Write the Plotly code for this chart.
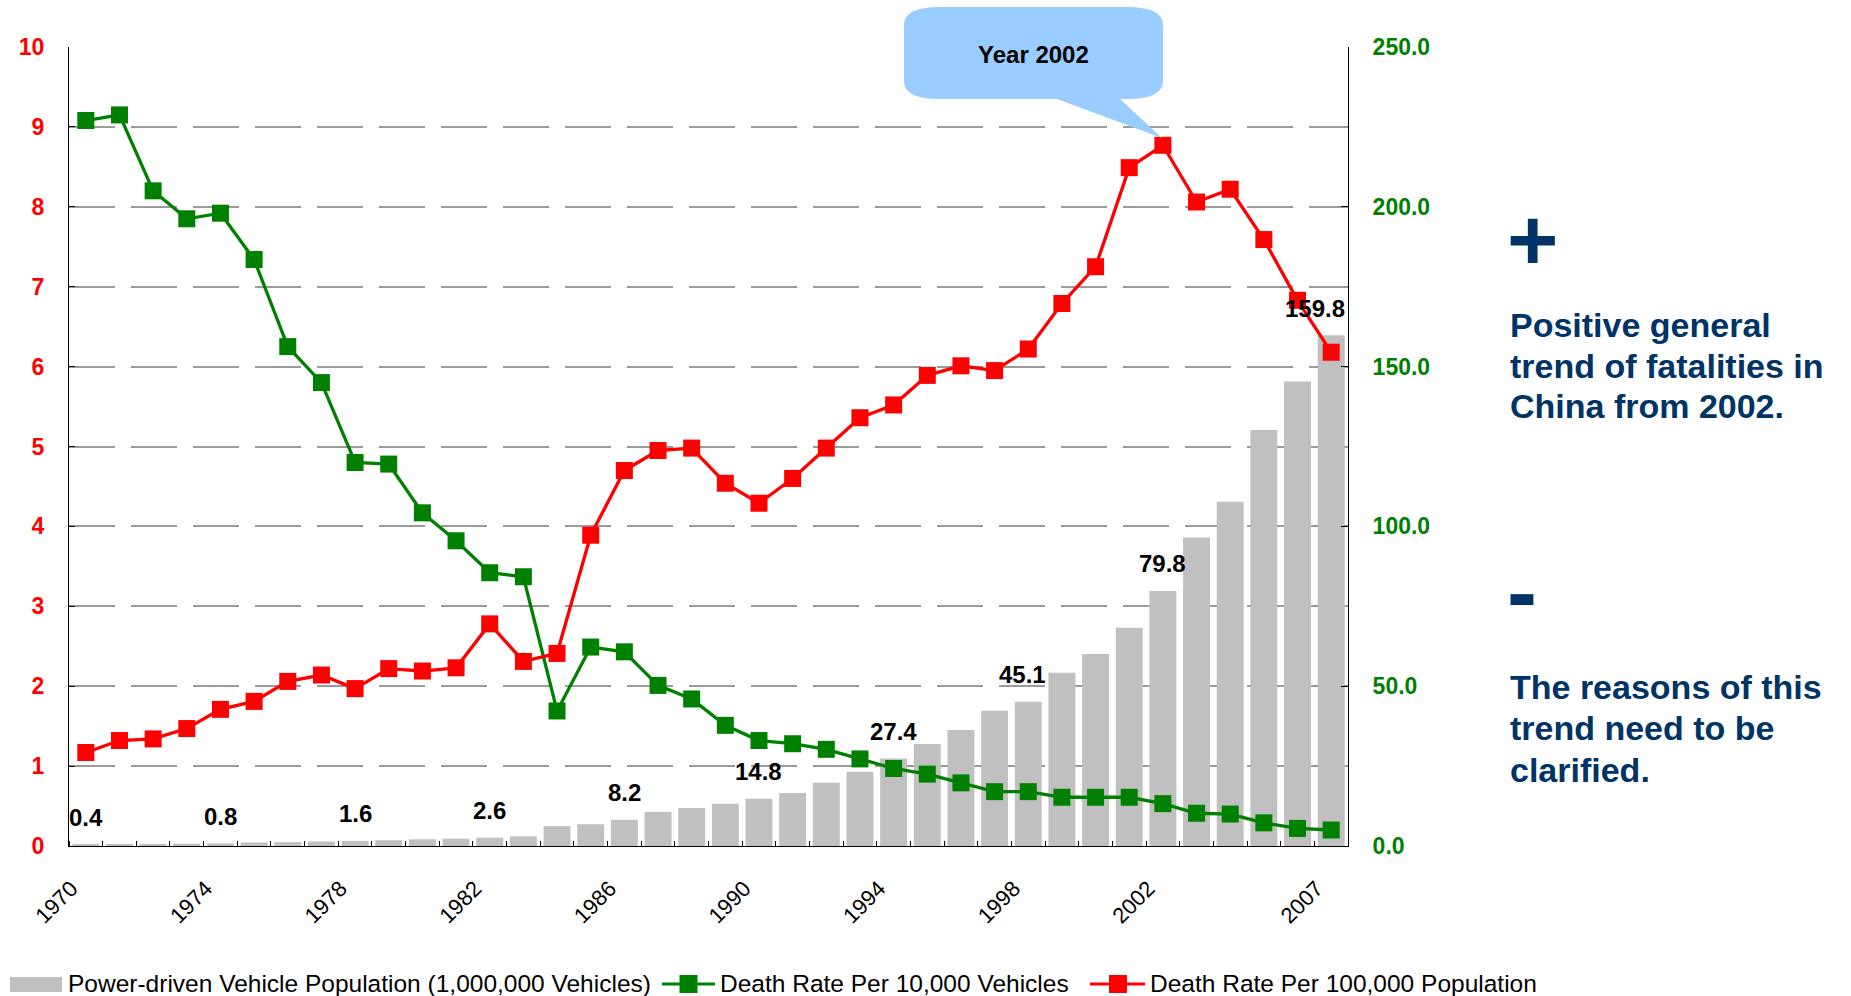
import plotly.graph_objects as go

# ---------------- data ----------------
years = list(range(1970, 2008))
vehicles = [0.4, 0.5, 0.6, 0.7, 0.8, 1.1, 1.2, 1.4, 1.6, 1.8, 2.1, 2.3, 2.6, 3.0,
            6.2, 6.8, 8.2, 10.7, 11.9, 13.2, 14.8, 16.6, 19.8, 23.2, 27.4, 31.9,
            36.3, 42.3, 45.1, 54.2, 60.1, 68.3, 79.8, 96.5, 107.7, 130.2, 145.3, 159.8]
death_per_10k_vehicles = [9.08, 9.15, 8.20, 7.85, 7.92, 7.34, 6.25, 5.80, 4.80, 4.78,
                          4.17, 3.82, 3.42, 3.37, 1.69, 2.49, 2.43, 2.01, 1.84, 1.51,
                          1.32, 1.28, 1.21, 1.09, 0.97, 0.90, 0.79, 0.68, 0.68, 0.61,
                          0.61, 0.61, 0.53, 0.41, 0.40, 0.29, 0.22, 0.20]
death_per_100k_pop = [1.17, 1.32, 1.34, 1.47, 1.71, 1.81, 2.06, 2.14, 1.97, 2.22,
                      2.19, 2.23, 2.78, 2.31, 2.41, 3.89, 4.70, 4.95, 4.98, 4.54,
                      4.29, 4.60, 4.98, 5.36, 5.52, 5.89, 6.01, 5.95, 6.22, 6.79,
                      7.25, 8.49, 8.77, 8.06, 8.22, 7.59, 6.83, 6.18]
tick_years = [1970, 1974, 1978, 1982, 1986, 1990, 1994, 1998, 2002, 2007]
bar_label_years = [1970, 1974, 1978, 1982, 1986, 1990, 1994, 1998, 2002, 2007]
series_names = ["Power-driven Vehicle Population (1,000,000 Vehicles)",
                "Death Rate Per 10,000 Vehicles",
                "Death Rate Per 100,000 Population"]
left_ticks = list(range(0, 11))
right_ticks = [0, 50, 100, 150, 200, 250]

# ---------------- styling / layout geometry ----------------
W, H = 1851, 996
PL, PR, PT, PB = 69, 1348, 47, 846          # plot area in pixels
FONT = "Arial, Liberation Sans, sans-serif"
NAVY = "#003366"
GREEN = "#008000"
RED = "#FF0000"
GREY = "#C0C0C0"
label_xshift = {1998: -6, 2007: -16}


def fx(x):
    return (x - PL) / (PR - PL)


def fy(y):
    return (PB - y) / (PB - PT)


fig = go.Figure()
fig.add_trace(go.Bar(x=years, y=vehicles, name=series_names[0], marker_color=GREY,
                     width=0.8, yaxis="y", showlegend=False))
fig.add_trace(go.Scatter(x=years, y=death_per_10k_vehicles, name=series_names[1],
                         mode="lines+markers", yaxis="y2", showlegend=False,
                         line=dict(color=GREEN, width=3.3),
                         marker=dict(symbol="square", size=17, color=GREEN)))
fig.add_trace(go.Scatter(x=years, y=death_per_100k_pop, name=series_names[2],
                         mode="lines+markers", yaxis="y2", showlegend=False,
                         line=dict(color=RED, width=3.3),
                         marker=dict(symbol="square", size=17, color=RED)))

annotations = []
# bar data labels
for yr in bar_label_years:
    v = vehicles[years.index(yr)]
    annotations.append(dict(x=yr, y=v, xref="x", yref="y", text=f"{v:.1f}",
                            showarrow=False, yanchor="middle", xanchor="center",
                            yshift=27, xshift=label_xshift.get(yr, 0),
                            font=dict(family=FONT, size=24, color="black", weight="bold")))

# callout
annotations.append(dict(x=fx(1033), y=fy(54), xref="paper", yref="paper", text="Year 2002",
                        showarrow=False, xanchor="center", yanchor="middle",
                        font=dict(family=FONT, size=24, color="black", weight="bold")))

# right side texts
annotations.append(dict(x=fx(1532), y=fy(240), xref="paper", yref="paper", text="+",
                        showarrow=False, xanchor="center", yanchor="middle",
                        font=dict(family=FONT, size=88, color=NAVY, weight="bold")))
annotations.append(dict(x=fx(1522), y=fy(592), xref="paper", yref="paper", text="-",
                        showarrow=False, xanchor="center", yanchor="middle",
                        font=dict(family=FONT, size=90, color=NAVY, weight="bold")))
block1 = ["Positive general", "trend of fatalities in", "China from 2002."]
block2 = ["The reasons of this", "trend need to be", "clarified."]
for line, yc in zip(block1, [325, 366, 406]):
    annotations.append(dict(x=fx(1508), y=fy(yc), xref="paper", yref="paper", text=line,
                            showarrow=False, xanchor="left", yanchor="middle",
                            font=dict(family=FONT, size=34, color=NAVY, weight="bold")))
for line, yc in zip(block2, [687, 728, 770]):
    annotations.append(dict(x=fx(1508), y=fy(yc), xref="paper", yref="paper", text=line,
                            showarrow=False, xanchor="left", yanchor="middle",
                            font=dict(family=FONT, size=34, color=NAVY, weight="bold")))

# custom legend texts
for name, xl in zip(series_names, [66, 718, 1148]):
    annotations.append(dict(x=fx(xl), y=fy(983), xref="paper", yref="paper", text=name,
                            showarrow=False, xanchor="left", yanchor="middle",
                            font=dict(family=FONT, size=24.5, color="black")))

shapes = []
# callout balloon
x0, x1, y0, y1, rx, ry = 904, 1163, 7, 99, 36, 18
pts = [("M", x0 + rx, y0), ("L", x1 - rx, y0), ("Q", x1, y0, x1, y0 + ry),
       ("L", x1, y1 - ry), ("Q", x1, y1, x1 - rx, y1), ("L", 1120, y1),
       ("L", 1162, 138), ("L", 1057, y1), ("L", x0 + rx, y1),
       ("Q", x0, y1, x0, y1 - ry), ("L", x0, y0 + ry), ("Q", x0, y0, x0 + rx, y0)]
path = ""
for p in pts:
    cmd = p[0]
    coords = p[1:]
    segs = []
    for i in range(0, len(coords), 2):
        segs.append(f"{fx(coords[i]):.5f},{fy(coords[i+1]):.5f}")
    path += cmd + " ".join(segs) + " "
path += "Z"
shapes.append(dict(type="path", path=path, xref="paper", yref="paper",
                   fillcolor="#99CCFF", line=dict(width=0), layer="above"))

# legend symbols
shapes.append(dict(type="rect", xref="paper", yref="paper", x0=fx(10), x1=fx(62),
                   y0=fy(992), y1=fy(977), fillcolor=GREY, line=dict(width=0)))
for (lx0, lx1, mc), col in zip([(662, 715, 688.5), (1090, 1145, 1118)], [GREEN, RED]):
    shapes.append(dict(type="line", xref="paper", yref="paper", x0=fx(lx0), x1=fx(lx1),
                       y0=fy(984), y1=fy(984), line=dict(color=col, width=3)))
    shapes.append(dict(type="rect", xref="paper", yref="paper", x0=fx(mc - 9), x1=fx(mc + 9),
                       y0=fy(993), y1=fy(975), fillcolor=col, line=dict(width=0)))

fig.update_layout(
    template="none",
    width=W, height=H,
    margin=dict(l=PL, r=W - PR, t=PT, b=H - PB, pad=0),
    paper_bgcolor="white", plot_bgcolor="white",
    showlegend=False,
    bargap=0.2,
    font=dict(family=FONT, color="black"),
    xaxis=dict(range=[1969.5, 2007.5], tickmode="array",
               tickvals=[y - 0.43 for y in tick_years], ticktext=[str(y) for y in tick_years],
               tickangle=-45, tickfont=dict(family=FONT, size=22, color="black"),
               ticks="", showline=True, linecolor="black", linewidth=1,
               showgrid=False, zeroline=False, automargin=False, ticklabelstandoff=20,
               minor=dict(tickmode="linear", tick0=1969.5, dtick=1, ticks="inside",
                          ticklen=5, tickcolor="black", tickwidth=1, showgrid=False)),
    yaxis=dict(side="right", range=[0, 250], tickmode="array", tickvals=right_ticks,
               ticktext=[f"{v:.1f}" for v in right_ticks],
               tickfont=dict(family=FONT, size=23, color=GREEN, weight="bold"),
               ticks="inside", ticklen=7, tickcolor="black", tickwidth=1,
               showline=True, linecolor="black", linewidth=1,
               showgrid=False, zeroline=False, automargin=False, ticklabelstandoff=19),
    yaxis2=dict(side="left", overlaying="y", range=[0, 10], tickmode="array",
                tickvals=left_ticks, ticktext=[str(v) for v in left_ticks],
                tickfont=dict(family=FONT, size=23, color=RED, weight="bold"),
                ticks="inside", ticklen=6, tickcolor="black", tickwidth=1,
                showline=True, linecolor="black", linewidth=1,
                showgrid=True, gridcolor="#9a9a9a", gridwidth=1.5, griddash="46px,16px",
                zeroline=False, automargin=False, ticklabelstandoff=19),
    annotations=annotations,
    shapes=shapes,
)

fig.write_html("out.html",
               config={"displayModeBar": False},
               post_script="document.body.style.margin='0px';document.body.style.overflow='hidden';")
